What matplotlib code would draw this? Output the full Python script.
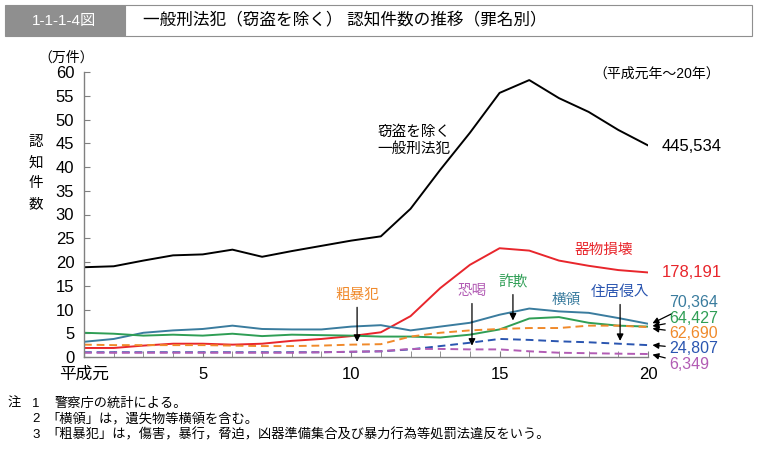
import numpy as np
import matplotlib
matplotlib.use("Agg")
import matplotlib.pyplot as plt
from matplotlib.patches import Rectangle

plt.rcParams['font.family'] = ['Liberation Sans', 'Noto Sans CJK JP', 'DejaVu Sans']

# 平成元年～20年, 単位: 万件
years = list(range(1, 21))
total = [18.9, 19.1, 20.3, 21.4, 21.6, 22.6, 21.1, 22.3, 23.4, 24.5,
         25.4, 31.2, 39.4, 47.2, 55.6, 58.3, 54.5, 51.6, 47.8, 44.55]
kibutsu = [1.9, 1.9, 2.4, 2.8, 2.8, 2.6, 2.8, 3.4, 3.8, 4.4,
           5.2, 8.6, 14.5, 19.4, 22.9, 22.4, 20.3, 19.2, 18.3, 17.8]
oryo = [3.2, 3.8, 5.1, 5.6, 5.9, 6.6, 5.9, 5.8, 5.8, 6.4,
        6.7, 5.6, 6.4, 7.2, 8.9, 10.2, 9.6, 9.3, 8.2, 7.0]
sagi = [5.1, 4.9, 4.5, 4.7, 4.5, 4.9, 4.4, 4.7, 4.6, 4.5,
        4.3, 4.3, 4.1, 4.7, 5.8, 8.1, 8.4, 7.2, 6.6, 6.4]
sobo = [2.6, 2.5, 2.5, 2.5, 2.5, 2.4, 2.3, 2.3, 2.4, 2.6,
        2.7, 4.3, 5.1, 5.6, 5.9, 6.1, 6.1, 6.6, 6.6, 6.3]
shinnyu = [1.0, 1.0, 1.0, 1.0, 1.0, 1.0, 1.0, 1.0, 1.0, 1.1,
           1.2, 1.6, 2.3, 3.0, 3.8, 3.6, 3.3, 3.1, 2.8, 2.5]
kakatsu = [0.9, 0.9, 0.9, 0.9, 0.9, 0.9, 0.9, 0.9, 1.0, 1.1,
           1.2, 1.7, 1.7, 1.6, 1.6, 1.2, 0.9, 0.8, 0.7, 0.63]
xtick_pos = [1, 5, 10, 15, 20]
xtick_lab = ['平成元', '5', '10', '15', '20']

c_red = '#e8262c'
c_teal = '#3a7c9e'
c_green = '#2f9e55'
c_orange = '#f08a2b'
c_blue = '#2a55b0'
c_purple = '#b25cb4'

fig = plt.figure(figsize=(7.59, 4.5), dpi=100)
ax = fig.add_axes([84/759, 1-357/450, (648-84)/759, (357-72)/450])

ax.plot(years, total, color='black', lw=1.4)
ax.plot(years, kibutsu, color=c_red, lw=1.4)
ax.plot(years, oryo, color=c_teal, lw=1.4)
ax.plot(years, sagi, color=c_green, lw=1.4)
ax.plot(years, sobo, color=c_orange, lw=1.4, dashes=[4, 2.5])
ax.plot(years, shinnyu, color=c_blue, lw=1.4, dashes=[4, 2.5])
ax.plot(years, kakatsu, color=c_purple, lw=1.4, dashes=[4, 2.5])

ax.set_xlim(1, 20)
ax.set_ylim(0, 60)
ax.set_yticks(range(0, 61, 5))
ax.set_xticks(xtick_pos)
ax.set_xticklabels(xtick_lab)
ax.set_xticks(years, minor=True)
for s in ['top', 'right']:
    ax.spines[s].set_visible(False)
for s in ['left', 'bottom']:
    ax.spines[s].set_color('#808080')
    ax.spines[s].set_linewidth(1.0)
ax.tick_params(axis='both', which='both', direction='in', color='#808080',
               labelsize=12, length=4)
ax.tick_params(axis='y', pad=7)
ax.tick_params(axis='x', pad=7)

fs = 10.5
ax.text(10.87, 45.6, '窃盗を除く\n一般刑法犯', fontsize=fs, ha='left', va='center',
        linespacing=1.3)
ax.text(20.47, 44.3, '445,534', fontsize=12, ha='left', va='center')
ax.text(18.5, 22.5, '器物損壊', fontsize=fs, color=c_red, ha='center', va='center')
ax.text(20.45, 17.7, '178,191', fontsize=12, color=c_red, ha='left', va='center')

arr = dict(arrowstyle='-|>', color='black', lw=0.9, mutation_scale=10)
ax.annotate('粗暴犯', xy=(10.2, 2.6), xytext=(10.2, 13.1), fontsize=fs,
            color=c_orange, ha='center', va='center', arrowprops=arr)
ax.annotate('恐喝', xy=(14.07, 1.8), xytext=(14.07, 13.9), fontsize=fs,
            color=c_purple, ha='center', va='center', arrowprops=arr)
ax.annotate('詐欺', xy=(15.45, 7.1), xytext=(15.45, 15.8), fontsize=fs,
            color=c_green, ha='center', va='center', arrowprops=arr)
ax.annotate('住居侵入', xy=(19.06, 2.8), xytext=(19.06, 13.7), fontsize=fs,
            color=c_blue, ha='center', va='center', arrowprops=arr)
ax.text(17.24, 12.0, '横領', fontsize=fs, color=c_teal, ha='center', va='center')

ends = [(70364, c_teal, 11.4, 7.1), (64427, c_green, 8.1, 6.5),
        (62690, c_orange, 4.9, 6.0), (24807, c_blue, 1.7, 2.5),
        (6349, c_purple, -1.5, 0.5)]
for val, col, ty, py in ends:
    ax.annotate(f'{val:,}', xy=(20.15, py), xytext=(20.72, ty), fontsize=11.5,
                color=col, ha='left', va='center', annotation_clip=False,
                arrowprops=dict(arrowstyle='-|>', color='black', lw=0.9,
                                mutation_scale=9, shrinkA=1, shrinkB=0))

# header
fig.patches.append(Rectangle((5/759, 1-36/450), 120/759, 31/450, transform=fig.transFigure,
                             facecolor='#8f8f8f', edgecolor='#8f8f8f', lw=0.8))
fig.patches.append(Rectangle((125/759, 1-36/450), 627/759, 31/450, transform=fig.transFigure,
                             facecolor='white', edgecolor='#8f8f8f', lw=0.8))
fig.text(64/759, 1-20.5/450, '1-1-1-4図', color='white', fontsize=11, ha='center', va='center')
fig.text(143/759, 1-20.5/450, '一般刑法犯（窃盗を除く） 認知件数の推移（罪名別）', fontsize=12,
         ha='left', va='center')

fig.text(38/759, 1-58/450, '（万件）', fontsize=10, ha='left', va='center')
fig.text(720/759, 1-74/450, '（平成元年～20年）', fontsize=10, ha='right', va='center')
fig.text(36/759, 1-173/450, '認\n知\n件\n数', fontsize=10.5, ha='center', va='center',
         linespacing=1.6)

notes = ['警察庁の統計による。', '「横領」は，遺失物等横領を含む。',
         '「粗暴犯」は，傷害，暴行，脅迫，凶器準備集合及び暴力行為等処罰法違反をいう。']
fig.text(8/759, 1-404/450, '注', fontsize=9.5, ha='left', va='center')
for i, t in enumerate(notes):
    y = 1 - (404 + 15.5 * i) / 450
    fig.text(32/759, y, str(i + 1), fontsize=9.5, ha='left', va='center')
    x0 = 55 if i == 0 else 46
    fig.text(x0/759, y, t, fontsize=9.5, ha='left', va='center')

fig.savefig('out.png', dpi=100)
